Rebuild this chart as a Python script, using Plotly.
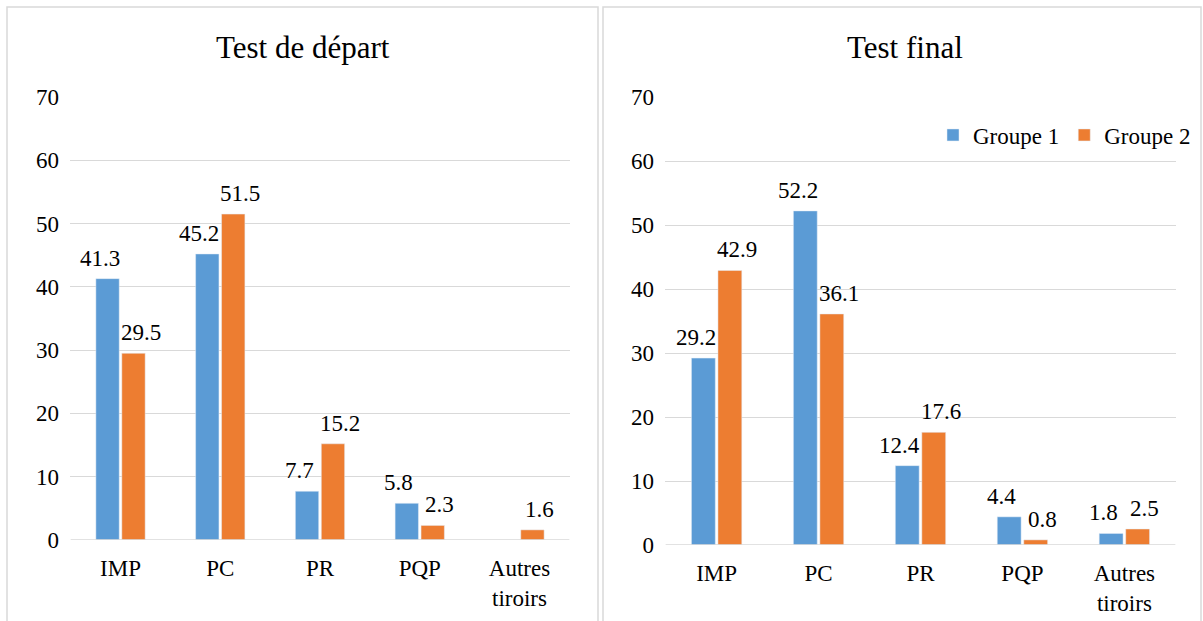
import plotly.graph_objects as go

categories = ["IMP", "PC", "PR", "PQP", "Autres<br>tiroirs"]
depart_g1 = [41.3, 45.2, 7.7, 5.8, None]
depart_g2 = [29.5, 51.5, 15.2, 2.3, 1.6]
final_g1 = [29.2, 52.2, 12.4, 4.4, 1.8]
final_g2 = [42.9, 36.1, 17.6, 0.8, 2.5]
y_ticks = [0, 10, 20, 30, 40, 50, 60, 70]

BLUE = "#5B9BD5"
ORANGE = "#ED7D31"
FONT = "Liberation Serif"
W, H = 1203, 621

fig = go.Figure()
labels = []
# (values, colour, name, axis suffix, show legend, label x-shift in px)
series = [
    (depart_g1, BLUE, "Groupe 1", "", False, -21),
    (depart_g2, ORANGE, "Groupe 2", "", False, 20),
    (final_g1, BLUE, "Groupe 1", "2", True, -21),
    (final_g2, ORANGE, "Groupe 2", "2", True, 20),
]
for vals, color, name, ax, show, dx in series:
    fig.add_trace(go.Bar(
        x=categories, y=vals, name=name, marker_color=color,
        xaxis="x" + ax, yaxis="y" + ax, showlegend=show,
    ))
    # data labels sit a little outward from their bar, like the Excel original
    for cat, v in zip(categories, vals):
        if v is None:
            continue
        labels.append(dict(
            text=f"{v:.1f}", x=cat, y=v, xref="x" + ax, yref="y" + ax,
            xanchor="center", yanchor="bottom", xshift=dx, yshift=6,
            showarrow=False, font=dict(family=FONT, size=23, color="#000"),
        ))

axis_common = dict(
    tickfont=dict(family=FONT, size=23, color="#000"),
    showline=False, zeroline=False, ticks="", automargin=False,
)
xaxis_common = dict(axis_common, showgrid=False, ticklabelstandoff=12)
yaxis_common = dict(
    axis_common, range=[0, 70], tickvals=y_ticks,
    gridcolor="#D9D9D9", gridwidth=1.3, ticklabelstandoff=10,
)

fig.update_layout(
    width=W, height=H,
    margin=dict(l=0, r=0, t=0, b=0, autoexpand=False),
    paper_bgcolor="white", plot_bgcolor="white",
    barmode="group", bargap=0.48, bargroupgap=0.1,
    font=dict(family=FONT, color="#000"),
    xaxis=dict(xaxis_common, domain=[70 / W, 570 / W], anchor="y"),
    yaxis=dict(yaxis_common, domain=[1 - 540 / H, 1 - 97 / H], anchor="x"),
    xaxis2=dict(xaxis_common, domain=[665 / W, 1176 / W], anchor="y2"),
    yaxis2=dict(yaxis_common, domain=[1 - 545 / H, 1 - 97 / H], anchor="x2"),
    legend=dict(
        orientation="h", x=1196 / W, xanchor="right", y=1 - 135 / H, yanchor="middle",
        font=dict(family=FONT, size=23, color="#000"),
        itemwidth=30, bgcolor="rgba(0,0,0,0)",
    ),
    annotations=labels + [
        dict(text="Test de départ", x=303 / W, y=1 - 47 / H, xref="paper", yref="paper",
             xanchor="center", yanchor="middle", showarrow=False,
             font=dict(family=FONT, size=31, color="#000")),
        dict(text="Test final", x=905 / W, y=1 - 47 / H, xref="paper", yref="paper",
             xanchor="center", yanchor="middle", showarrow=False,
             font=dict(family=FONT, size=31, color="#000")),
    ],
    shapes=[
        dict(type="line", xref="x", yref="y", x0=-0.5, x1=4.5, y0=0, y1=0,
             line=dict(color="#D9D9D9", width=1.3)),
        dict(type="line", xref="x2", yref="y2", x0=-0.5, x1=4.5, y0=0, y1=0,
             line=dict(color="#D9D9D9", width=1.3)),
        dict(type="rect", xref="paper", yref="paper", x0=7 / W, x1=598 / W,
             y0=-0.01, y1=1 - 7 / H, line=dict(color="#D9D9D9", width=1.5)),
        dict(type="rect", xref="paper", yref="paper", x0=603 / W, x1=1201 / W,
             y0=-0.01, y1=1 - 7 / H, line=dict(color="#D9D9D9", width=1.5)),
    ],
)

# pin the plot to the page corner so it lines up with the 1203x621 window
pin = ("document.body.style.margin='0';"
       "var d=document.getElementById('{plot_id}');"
       "d.style.position='absolute';d.style.top='0';d.style.left='0';")
fig.write_html("out.html", post_script=pin, config={"displayModeBar": False})
